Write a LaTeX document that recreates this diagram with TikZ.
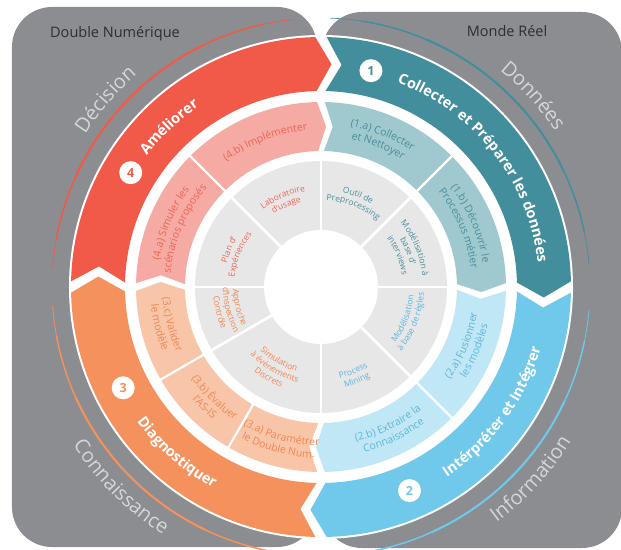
\documentclass[tikz,border=0pt]{standalone}
\usepackage{fontspec}
\setmainfont{Open Sans}
\usetikzlibrary{decorations.text}

\definecolor{panelgray}{HTML}{8B8D91}
\definecolor{labelgray}{HTML}{D5D6D8}
\definecolor{titlegray}{HTML}{2E2E30}
\definecolor{red4}{HTML}{F15A48}
\definecolor{teal1}{HTML}{438E9C}
\definecolor{blue2}{HTML}{70C8EA}
\definecolor{orange3}{HTML}{F5915C}
\definecolor{pinkm}{HTML}{F5AAA3}
\definecolor{tealm}{HTML}{9FC8CF}
\definecolor{bluem}{HTML}{C0E7F5}
\definecolor{orangem}{HTML}{F8C5A9}
\definecolor{grayin}{HTML}{E7E7E8}
\definecolor{redtext}{HTML}{EC6553}
\definecolor{tealtext}{HTML}{4A8E9B}
\definecolor{bluetext}{HTML}{5DB6D9}
\definecolor{orangetext}{HTML}{F0874F}

% fonts used along the arcs
\newcommand{\bandfont}{\bfseries\fontsize{14.5}{14.5}\selectfont\color{white}}
\newcommand{\outerfont}{\fontsize{20}{20}\selectfont\color{labelgray}}
\newcommand{\midfont}{\fontsize{10.5}{10.5}\selectfont}
\newcommand{\infont}{\fontsize{8.5}{8.5}\selectfont}

% ring part with a chevron: colour, from, to, inner, outer, tip, half gap
\newcommand{\chevpart}[7]{%
  \fill[#1] ({#2-#7}:#5) arc[start angle={#2-#7}, end angle={#3+#7}, radius=#5]
    -- ({#3+#7-#6}:{(#4+#5)/2}) -- ({#3+#7}:#4)
    arc[start angle={#3+#7}, end angle={#2-#7}, radius=#4]
    -- ({#2-#7-#6}:{(#4+#5)/2}) -- cycle;}

% text on an arc: radius, centre angle, span, format, text
\newcommand{\toptext}[5]{%
  \path[decorate, decoration={text along path, text align=center, text={|#4|#5}}]
    ({#2+#3/2}:#1) arc[start angle={#2+#3/2}, delta angle={-#3}, radius=#1];}
\newcommand{\bottext}[5]{%
  \path[decorate, decoration={text along path, text align=center, text={|#4|#5}}]
    ({#2-#3/2}:#1) arc[start angle={#2-#3/2}, delta angle={#3}, radius=#1];}

% thin tapered arc: colour, from, to
\newcommand{\thinarc}[3]{%
  \draw[#1, line width=0.7pt] ({#2}:269) arc[start angle={#2}, end angle={#3}, radius=269];
  \draw[#1, line width=1.4pt] ({#2+(#3-#2)*0.08}:269) arc[start angle={#2+(#3-#2)*0.08}, end angle={#3-(#3-#2)*0.08}, radius=269];
  \draw[#1, line width=2pt] ({#2+(#3-#2)*0.25}:269) arc[start angle={#2+(#3-#2)*0.25}, end angle={#3-(#3-#2)*0.25}, radius=269];}

\tikzset{
  paneltitle/.style={text=titlegray, font=\fontsize{14.5}{14.5}\selectfont},
  numdot/.style={circle, fill=white, minimum size=23pt, inner sep=0pt,
    font=\bfseries\fontsize{12.5}{12.5}\selectfont},
  cut/.style={white, line width=2.2pt}
}

\begin{document}
\begin{tikzpicture}[x=1pt, y=1pt]

	% frame
	\useasboundingbox (-321,-262) rectangle (300,287);

	% panels
	\fill[panelgray, rounded corners=40pt] (-309,-260) rectangle (-4,280);
	\fill[panelgray, rounded corners=40pt] (1,-261) rectangle (301,275);
	\node[paneltitle] (dn) at (-206,253) {Double Numérique};
	\node[paneltitle] (mr) at (186,256) {Monde Réel};

	% thin arcs
	\thinarc{red4}{176}{96}
	\thinarc{teal1}{88}{5}
	\thinarc{blue2}{-5}{-86}
	\thinarc{orange3}{-95}{-176}

	% outer labels
	\toptext{281}{139}{60}{\outerfont}{Décision}
	\toptext{281}{42}{60}{\outerfont}{Données}
	\bottext{294}{-42.5}{60}{\outerfont}{Information}
	\bottext{294}{-135}{60}{\outerfont}{Connaissance}

	% main ring
	\fill[white] (0,0) circle[radius=252];
	\chevpart{red4}{180}{90}{196}{250}{4}{1.3}
	\chevpart{teal1}{90}{0}{196}{250}{4}{1.3}
	\chevpart{blue2}{0}{-90}{196}{250}{4}{1.3}
	\chevpart{orange3}{-90}{-180}{196}{250}{4}{1.3}

	\node[numdot, text=red4] (n4) at (149:222) {4};
	\node[numdot, text=teal1] (n1) at (77:222) {1};
	\node[numdot, text=blue2] (n2) at (-66.5:222) {2};
	\node[numdot, text=orange3] (n3) at (-153:222) {3};

	\toptext{218}{133.5}{40}{\bandfont}{Améliorer}
	\toptext{218}{38}{90}{\bandfont}{Collecter et Préparer les données}
	\bottext{228}{-36}{70}{\bandfont}{Intérpréter et Intégrer}
	\bottext{228}{-131}{50}{\bandfont}{Diagnostiquer}

	% middle ring
	\chevpart{pinkm}{180}{90}{136}{185}{3}{1.2}
	\chevpart{tealm}{90}{0}{136}{185}{3}{1.2}
	\chevpart{bluem}{0}{-90}{136}{185}{3}{1.2}
	\chevpart{orangem}{-90}{-180}{136}{185}{3}{1.2}
	\foreach \a in {135,45,-45,-120,-150}
		\draw[cut] (\a:134) -- (\a:187);

	\toptext{157}{111}{70}{\midfont\color{redtext}}{(4.b) Implémenter}
	\toptext{163.5}{68}{70}{\midfont\color{tealtext}}{(1.a) Collecter}
	\toptext{151}{68}{70}{\midfont\color{tealtext}}{et Nettoyer}
	\toptext{163.5}{23}{70}{\midfont\color{tealtext}}{(1.b) Découvrir le}
	\toptext{151}{23}{70}{\midfont\color{tealtext}}{Processus métier}
	\bottext{158.5}{-22.5}{70}{\midfont\color{bluetext}}{(2.a) Fusionner}
	\bottext{171}{-22.5}{70}{\midfont\color{bluetext}}{les modèles}
	\bottext{158.5}{-64}{70}{\midfont\color{bluetext}}{(2.b) Extraire la}
	\bottext{171}{-64}{70}{\midfont\color{bluetext}}{Connaissance}
	\bottext{158.5}{-105}{70}{\midfont\color{orangetext}}{(3.a) Paramétrer}
	\bottext{171}{-105}{70}{\midfont\color{orangetext}}{le Double Num.}
	\bottext{158.5}{-134}{70}{\midfont\color{orangetext}}{(3.b) Évaluer}
	\bottext{171}{-134}{70}{\midfont\color{orangetext}}{l'AS-IS}
	\bottext{158.5}{-166}{70}{\midfont\color{orangetext}}{(3.c) Valider}
	\bottext{171}{-166}{70}{\midfont\color{orangetext}}{le modèle}
	\toptext{163.5}{157}{70}{\midfont\color{redtext}}{(4.a) Simuler les}
	\toptext{151}{157}{70}{\midfont\color{redtext}}{scénarios proposés}

	% inner ring
	\fill[grayin] (0,0) circle[radius=126];
	\fill[white] (0,0) circle[radius=57];
	\foreach \a in {90,45,0,-45,-90,-150,180,135}
		\draw[cut, line width=2.6pt] (\a:55) -- (\a:128);

	\toptext{97}{68}{80}{\infont\color{tealtext}}{Outil de}
	\toptext{87}{68}{80}{\infont\color{tealtext}}{Preprocessing}
	\toptext{102}{22.5}{80}{\infont\color{tealtext}}{Modélisation à}
	\toptext{92}{22.5}{80}{\infont\color{tealtext}}{base d'}
	\toptext{82}{22.5}{80}{\infont\color{tealtext}}{interviews}
	\bottext{93}{-21}{80}{\infont\color{bluetext}}{Modélisation}
	\bottext{103}{-21}{80}{\infont\color{bluetext}}{à base de règles}
	\bottext{93}{-69}{80}{\infont\color{bluetext}}{Process}
	\bottext{103}{-69}{80}{\infont\color{bluetext}}{Mining}
	\bottext{88}{-120}{80}{\infont\color{orangetext}}{Simulation}
	\bottext{98}{-120}{80}{\infont\color{orangetext}}{à événements}
	\bottext{108}{-120}{80}{\infont\color{orangetext}}{Discrets}
	\bottext{88}{-166}{80}{\infont\color{orangetext}}{Approche}
	\bottext{98}{-166}{80}{\infont\color{orangetext}}{d'Inspection}
	\bottext{108}{-166}{80}{\infont\color{orangetext}}{Contrôle}
	\toptext{97}{158}{80}{\infont\color{redtext}}{Plan d'}
	\toptext{87}{158}{80}{\infont\color{redtext}}{Expériences}
	\toptext{97}{113}{80}{\infont\color{redtext}}{Laboratoire}
	\toptext{87}{113}{80}{\infont\color{redtext}}{d'usage}

\end{tikzpicture}
\end{document}
